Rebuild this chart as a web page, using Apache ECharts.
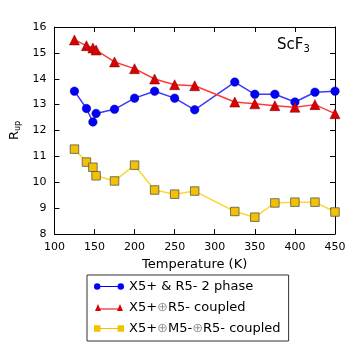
<!DOCTYPE html>
<html>
<head>
<meta charset="utf-8">
<script src="https://cdn.jsdelivr.net/npm/echarts@6/dist/echarts.min.js"></script>
<style>
  html, body { margin: 0; padding: 0; background: #fff; }
  #chart { width: 353px; height: 348px; }
</style>
</head>
<body>
<div id="chart"></div>
<script>
// Temperatures (K) and R_up values
const temps = [125, 140, 148, 152, 175, 200, 225, 250, 275, 325, 350, 375, 400, 425, 450];
const twoPhase = [13.52, 12.85, 12.33, 12.66, 12.82, 13.25, 13.52, 13.25, 12.8, 13.87, 13.4, 13.4, 13.1, 13.48, 13.52];
const coupledXR = [15.5, 15.28, 15.19, 15.11, 14.65, 14.39, 13.99, 13.77, 13.73, 13.1, 13.03, 12.96, 12.9, 13.0, 12.65];
const coupledXMR = [11.28, 10.78, 10.58, 10.25, 10.05, 10.66, 9.7, 9.54, 9.66, 8.87, 8.65, 9.2, 9.23, 9.23, 8.85];
const seriesNames = ['X5+ & R5- 2 phase', 'X5+\u2295R5- coupled', 'X5+\u2295M5-\u2295R5- coupled'];

const font = 'DejaVu Sans';

// legend icons: a short line with a marker at each end (30 x 7 box)
const legendIcons = [
    'path://M1,3.5 A3,3 0 1,1 7,3.5 A3,3 0 1,1 1,3.5 Z M23,3.5 A3,3 0 1,1 29,3.5 A3,3 0 1,1 23,3.5 Z M6,3 L24,3 L24,4 L6,4 Z',
    'path://M1,7 L4,0 L7,7 Z M23,7 L26,0 L29,7 Z M6,4.5 L24,4.5 L24,5.5 L6,5.5 Z',
    'path://M1,0.5 L7,0.5 L7,6.5 L1,6.5 Z M23,0.5 L29,0.5 L29,6.5 L23,6.5 Z M7,3 L23,3 L23,4 L7,4 Z'
];

function pairs(ys) {
    return temps.map((t, i) => [t, ys[i]]);
}

function axisBase(extra) {
    return Object.assign({
        axisLine: { show: true, onZero: false, lineStyle: { color: '#000', width: 1 } },
        axisTick: { show: true, inside: true, length: 5, lineStyle: { color: '#000' } },
        splitLine: { show: false },
        axisLabel: { color: '#000', fontFamily: font, fontSize: 11 }
    }, extra);
}

const chart = echarts.init(document.getElementById('chart'));

chart.setOption({
    animation: false,
    backgroundColor: '#fff',
    grid: { left: 54, right: 18, top: 27, bottom: 114 },
    xAxis: [
        axisBase({
            type: 'value', min: 100, max: 450, interval: 50,
            name: 'Temperature (K)', nameLocation: 'middle', nameGap: 24,
            nameTextStyle: { color: '#000', fontFamily: font, fontSize: 13 }
        }),
        axisBase({
            type: 'value', position: 'top', min: 100, max: 450, interval: 50,
            axisLabel: { show: false }
        })
    ],
    yAxis: [
        axisBase({
            type: 'value', min: 8, max: 16, interval: 1,
            name: '{r|R}{s|up}', nameLocation: 'middle', nameGap: 28,
            nameTextStyle: {
                rich: {
                    r: { fontFamily: font, fontSize: 13, color: '#000' },
                    s: { fontFamily: font, fontSize: 8, color: '#000', verticalAlign: 'bottom', padding: [6, 0, 0, 0] }
                }
            }
        }),
        axisBase({
            type: 'value', position: 'right', min: 8, max: 16, interval: 1,
            axisLabel: { show: false }
        })
    ],
    legend: {
        left: 87, top: 275,
        orient: 'vertical',
        padding: [4, 8, 5, 7],
        itemGap: 6,
        itemWidth: 30, itemHeight: 7,
        borderColor: '#333', borderWidth: 1,
        backgroundColor: '#fff',
        itemStyle: { borderWidth: 0 },
        textStyle: {
            fontFamily: font, fontSize: 13, color: '#000', lineHeight: 15,
            rich: { o: { color: '#999', fontFamily: font, fontSize: 13 } }
        },
        formatter: function (name) {
            return name.replace(/\u2295/g, '{o|\u2295}');
        },
        data: seriesNames.map((n, i) => ({ name: n, icon: legendIcons[i] }))
    },
    graphic: [{
        type: 'text',
        left: 277, top: 38,
        style: {
            text: '{a|ScF}{b|3}',
            rich: {
                a: { fontFamily: font, fontSize: 15, fill: '#000' },
                b: { fontFamily: font, fontSize: 10, fill: '#000', padding: [8, 0, 0, 0] }
            }
        }
    }],
    series: [
        {
            name: seriesNames[0], type: 'line', data: pairs(twoPhase),
            symbol: 'circle', symbolSize: 8.5,
            lineStyle: { color: '#3a3aff', width: 1.5 },
            itemStyle: { color: '#0000ff', borderColor: '#00008b', borderWidth: 0.5 }
        },
        {
            name: seriesNames[1], type: 'line', data: pairs(coupledXR),
            symbol: 'triangle', symbolSize: 10,
            lineStyle: { color: '#ff3a3a', width: 1.5 },
            itemStyle: { color: '#dd0000', borderColor: '#660000', borderWidth: 0.5 }
        },
        {
            name: seriesNames[2], type: 'line', data: pairs(coupledXMR),
            symbol: 'rect', symbolSize: 8.5,
            lineStyle: { color: '#ffd633', width: 1.5 },
            itemStyle: { color: '#f2c200', borderColor: '#555', borderWidth: 0.8 }
        }
    ]
});
</script>
</body>
</html>
